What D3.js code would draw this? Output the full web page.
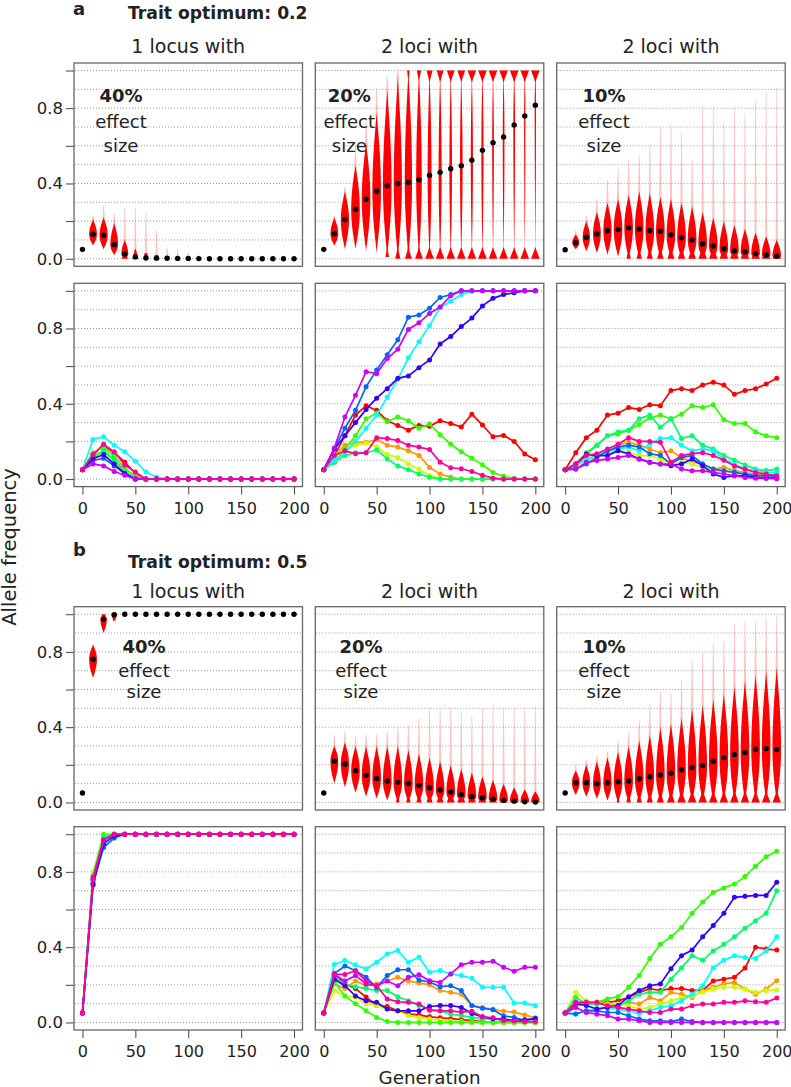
<!DOCTYPE html>
<html><head><meta charset="utf-8">
<script src="https://cdn.jsdelivr.net/npm/d3@7"></script>
<style>
body{margin:0;background:#fff}
svg{display:block}
text{font-family:"DejaVu Sans",sans-serif;fill:#222}
</style>
</head><body>
<svg id="c" width="791" height="1087"></svg>
<script>
// ---------------- DATA ----------------
const generations = [0,10,20,30,40,50,60,70,80,90,100,110,120,130,140,150,160,170,180,190,200];
const gridValues = [0,0.1,0.2,0.3,0.4,0.5,0.6,0.7,0.8,0.9,1.0];
const yTickValues = [0,0.2,0.4,0.6,0.8,1.0];
const yTickLabels = ["0.0","","0.4","","0.8",""];
const xTickValues = [0,50,100,150,200];
const lineColors = ["#FF0000","#FF9900","#CCFF00","#33FF00","#00FF66","#00FFFF","#0066FF","#3300FF","#CC00FF","#FF0099"];
const columnTitles = ["1 locus with","2 loci with","2 loci with"];
const effectLabels = ["40%","20%","10%"];
const rowTitles = ["Trait optimum: 0.2","Trait optimum: 0.5"];
const rowLetters = ["a","b"];

// Violin summaries: mean, solid lower/upper extent, faint tail top, relative widths (mid, bottom flare, top flare)
const vA1Mean = [0.05,0.13,0.125,0.075,0.025,0.01,0.004,0.003,0.003,0.002,0.002,0.001,0,0,0,0,0,0,0,0,0];
const vA1Lo   = [0.05,0.07,0.05,0.02,0,0,0,0,0,0,0,0,0,0,0,0,0,0,0,0,0];
const vA1Hi   = [0.05,0.21,0.22,0.19,0.10,0.05,0.03,0.02,0.015,0.01,0.01,0.005,0,0,0,0,0,0,0,0,0];
const vA1Tail = [0.05,0.23,0.28,0.24,0.27,0.27,0.25,0.15,0.06,0.05,0.03,0.02,0,0,0,0,0,0,0,0,0];
const vA1DMid = [0,0.9,0.95,0.9,0.8,0.5,0.35,0.3,0.3,0.3,0.25,0.2,0,0,0,0,0,0,0,0,0];
const vA1DLo  = [0,0,0,0,0.7,0.7,0.6,0.6,0.6,0.55,0.5,0.3,0,0,0,0,0,0,0,0,0];
const vA1DHi  = [0,0,0,0,0,0,0,0,0,0,0,0,0,0,0,0,0,0,0,0,0];

const vA2Mean = [0.05,0.133,0.208,0.263,0.316,0.359,0.388,0.40,0.407,0.42,0.444,0.459,0.478,0.494,0.524,0.576,0.617,0.647,0.711,0.759,0.816];
const vA2Lo   = [0.05,0.07,0.05,0.05,0.04,0.03,0.01,0,0,0,0,0,0,0,0,0,0,0,0,0,0];
const vA2Hi   = [0.05,0.22,0.36,0.5,0.62,0.78,0.9,0.97,1,1,1,1,1,1,1,1,1,1,1,1,1];
const vA2Tail = [0.05,0.23,0.38,0.6,0.75,0.9,0.97,1,1,1,1,1,1,1,1,1,1,1,1,1,1];
const vA2DMid = [0,0.9,0.95,1,1,1,1,0.95,0.85,0.65,0.45,0.35,0.3,0.3,0.25,0.25,0.2,0.2,0.2,0.15,0.15];
const vA2DLo  = [0,0,0,0,0,0,0.4,0.6,0.8,0.9,1,1,1,1,1,1,1,1,1,1,1];
const vA2DHi  = [0,0,0,0,0,0,0,0,0.3,0.5,0.7,0.8,0.9,0.9,1,1,1,1,1,1,1];

const vA3Mean = [0.048,0.085,0.114,0.132,0.149,0.155,0.165,0.158,0.149,0.146,0.128,0.112,0.10,0.08,0.068,0.053,0.043,0.037,0.027,0.02,0.014];
const vA3Lo   = [0.048,0.05,0.04,0.03,0.02,0.01,0,0,0,0,0,0,0,0,0,0,0,0,0,0,0];
const vA3Hi   = [0.048,0.13,0.2,0.25,0.3,0.32,0.34,0.36,0.35,0.33,0.32,0.3,0.28,0.25,0.22,0.2,0.18,0.16,0.14,0.12,0.1];
const vA3Tail = [0.048,0.15,0.23,0.32,0.42,0.48,0.53,0.55,0.6,0.7,0.72,0.67,0.53,0.81,0.81,0.73,0.8,0.77,0.84,0.88,0.91];
const vA3DMid = [0,0.8,0.85,0.9,0.95,1,1,1,1,1,1,1,1,1,1,1,1,1,1,1,1];
const vA3DLo  = [0,0,0,0,0,0,0.5,0.6,0.7,0.75,0.8,0.85,0.9,1,1,1,1,1,1,1,1];
const vA3DHi  = [0,0,0,0,0,0,0,0,0,0,0,0,0,0,0,0,0,0,0,0,0];

const vB1Mean = [0.05,0.761,0.974,0.997,1,1,1,1,1,1,1,1,1,1,1,1,1,1,1,1,1];
const vB1Lo   = [0.05,0.66,0.9,0.965,0.99,1,1,1,1,1,1,1,1,1,1,1,1,1,1,1,1];
const vB1Hi   = [0.05,0.84,1,1,1,1,1,1,1,1,1,1,1,1,1,1,1,1,1,1,1];
const vB1Tail = [0.05,0.84,1,1,1,1,1,1,1,1,1,1,1,1,1,1,1,1,1,1,1];
const vB1DMid = [0,0.9,0.75,0.6,0.3,0,0,0,0,0,0,0,0,0,0,0,0,0,0,0,0];
const vB1DLo  = [0,0,0,0,0,0,0,0,0,0,0,0,0,0,0,0,0,0,0,0,0];
const vB1DHi  = [0,0,0.5,0.6,0.35,0,0,0,0,0,0,0,0,0,0,0,0,0,0,0,0];

const vB2Mean = [0.05,0.219,0.204,0.169,0.144,0.128,0.114,0.107,0.101,0.091,0.078,0.066,0.055,0.043,0.032,0.025,0.018,0.011,0.007,0.004,0.002];
const vB2Lo   = [0.05,0.1,0.08,0.05,0.03,0.02,0.01,0,0,0,0,0,0,0,0,0,0,0,0,0,0];
const vB2Hi   = [0.05,0.3,0.32,0.3,0.3,0.3,0.3,0.3,0.28,0.26,0.24,0.22,0.2,0.18,0.16,0.14,0.12,0.1,0.08,0.07,0.06];
const vB2Tail = [0.05,0.36,0.38,0.35,0.36,0.36,0.38,0.4,0.41,0.45,0.5,0.5,0.5,0.48,0.46,0.5,0.52,0.5,0.5,0.5,0.51];
const vB2DMid = [0,0.9,0.95,1,1,1,1,1,1,1,1,1,1,1,1,1,1,1,1,1,1];
const vB2DLo  = [0,0,0,0,0,0,0,0.4,0.5,0.6,0.7,0.8,0.9,0.9,0.9,0.9,0.9,0.9,0.9,0.9,0.9];
const vB2DHi  = [0,0,0,0,0,0,0,0,0,0,0,0,0,0,0,0,0,0,0,0,0];

const vB3Mean = [0.05,0.105,0.105,0.10,0.105,0.11,0.114,0.126,0.137,0.146,0.155,0.174,0.185,0.196,0.219,0.238,0.254,0.265,0.283,0.286,0.281];
const vB3Lo   = [0.05,0.04,0.03,0.02,0.01,0,0,0,0,0,0,0,0,0,0,0,0,0,0,0,0];
const vB3Hi   = [0.05,0.17,0.2,0.22,0.24,0.27,0.3,0.33,0.36,0.4,0.42,0.45,0.5,0.52,0.55,0.58,0.62,0.65,0.68,0.7,0.72];
const vB3Tail = [0.05,0.2,0.23,0.25,0.27,0.33,0.37,0.44,0.52,0.59,0.58,0.65,0.76,0.8,0.85,0.86,0.95,0.96,0.96,0.98,0.99];
const vB3DMid = [0,0.9,0.9,0.9,0.95,1,1,1,1,1,1,1,1,1,1,1,1,1,1,1,1];
const vB3DLo  = [0,0,0,0,0,0.3,0.5,0.6,0.7,0.8,0.9,1,1,1,1,1,1,1,1,1,1];
const vB3DHi  = [0,0,0,0,0,0,0,0,0,0,0,0,0,0,0,0,0,0,0,0,0];

// Replicate trajectories (10 per panel; colour order as lineColors)
const lA1 = [
 [0.05,0.13,0.18,0.14,0.09,0.03,0,0,0,0,0,0,0,0,0,0,0,0,0,0,0],
 [0.05,0.11,0.15,0.10,0.05,0.02,0,0,0,0,0,0,0,0,0,0,0,0,0,0,0],
 [0.05,0.12,0.14,0.08,0.03,0,0,0,0,0,0,0,0,0,0,0,0,0,0,0,0],
 [0.05,0.14,0.17,0.12,0.06,0.01,0,0,0,0,0,0,0,0,0,0,0,0,0,0,0],
 [0.05,0.12,0.15,0.10,0.04,0,0,0,0,0,0,0,0,0,0,0,0,0,0,0,0],
 [0.05,0.21,0.225,0.18,0.145,0.095,0.037,0.01,0,0,0,0,0,0,0,0,0,0,0,0,0],
 [0.05,0.10,0.11,0.07,0.03,0,0,0,0,0,0,0,0,0,0,0,0,0,0,0,0],
 [0.05,0.11,0.13,0.08,0.03,0,0,0,0,0,0,0,0,0,0,0,0,0,0,0,0],
 [0.05,0.08,0.07,0.04,0.02,0,0,0,0,0,0,0,0,0,0,0,0,0,0,0,0],
 [0.05,0.13,0.185,0.145,0.075,0.037,0,0,0,0,0,0,0,0,0,0,0,0,0,0,0]
];
const lA2 = [
 [0.05,0.125,0.23,0.34,0.39,0.365,0.31,0.285,0.26,0.285,0.28,0.31,0.295,0.277,0.345,0.287,0.225,0.232,0.2,0.133,0.103],
 [0.05,0.125,0.18,0.195,0.195,0.21,0.18,0.17,0.15,0.125,0.062,0.027,0.01,0,0,0,0,0,0,0,0],
 [0.05,0.115,0.16,0.18,0.19,0.17,0.13,0.115,0.08,0.053,0.018,0.004,0,0,0,0,0,0,0,0,0],
 [0.05,0.09,0.16,0.23,0.32,0.35,0.305,0.33,0.31,0.27,0.292,0.236,0.185,0.145,0.11,0.076,0.035,0.015,0.004,0,0],
 [0.05,0.09,0.125,0.14,0.14,0.155,0.107,0.07,0.05,0.027,0.01,0,0,0,0,0,0,0,0,0,0],
 [0.05,0.10,0.14,0.20,0.27,0.34,0.435,0.53,0.645,0.73,0.815,0.912,0.944,0.98,1,1,1,1,1,1,1],
 [0.05,0.16,0.27,0.365,0.49,0.58,0.66,0.74,0.86,0.872,0.908,0.965,0.98,1,1,1,1,1,1,1,1],
 [0.05,0.16,0.23,0.30,0.37,0.43,0.48,0.535,0.548,0.592,0.633,0.718,0.757,0.81,0.855,0.92,0.96,0.98,0.99,1,1],
 [0.05,0.165,0.33,0.445,0.57,0.56,0.64,0.69,0.795,0.83,0.88,0.914,0.974,1,1,1,1,1,1,1,1],
 [0.05,0.125,0.15,0.135,0.14,0.22,0.215,0.205,0.18,0.17,0.157,0.09,0.06,0.055,0.04,0.02,0.005,0,0,0,0]
];
const lA3 = [
 [0.05,0.14,0.22,0.26,0.34,0.35,0.38,0.37,0.395,0.39,0.47,0.48,0.47,0.50,0.515,0.50,0.45,0.47,0.48,0.505,0.535],
 [0.05,0.07,0.107,0.125,0.14,0.18,0.195,0.18,0.16,0.14,0.15,0.115,0.09,0.08,0.053,0.062,0.045,0.035,0.027,0.02,0.027],
 [0.05,0.07,0.107,0.115,0.142,0.151,0.142,0.125,0.125,0.107,0.071,0.089,0.08,0.062,0.044,0.044,0.036,0.027,0.018,0.012,0.009],
 [0.05,0.08,0.14,0.18,0.23,0.24,0.26,0.29,0.325,0.34,0.32,0.345,0.39,0.38,0.395,0.315,0.295,0.295,0.25,0.23,0.22],
 [0.05,0.07,0.13,0.18,0.23,0.25,0.26,0.32,0.34,0.275,0.32,0.215,0.23,0.18,0.16,0.125,0.10,0.075,0.053,0.045,0.053],
 [0.05,0.08,0.10,0.125,0.15,0.16,0.17,0.15,0.185,0.215,0.22,0.18,0.15,0.16,0.15,0.107,0.08,0.053,0.045,0.035,0.035],
 [0.05,0.053,0.08,0.115,0.15,0.17,0.18,0.17,0.135,0.125,0.08,0.115,0.125,0.08,0.053,0.044,0.036,0.027,0.018,0.018,0.014],
 [0.05,0.08,0.133,0.125,0.125,0.151,0.133,0.107,0.089,0.08,0.071,0.08,0.107,0.071,0.027,0.009,0.018,0.018,0.009,0.007,0.005],
 [0.05,0.053,0.089,0.098,0.107,0.115,0.125,0.107,0.089,0.08,0.08,0.053,0.044,0.044,0.036,0.027,0.018,0.009,0.005,0.003,0.002],
 [0.05,0.08,0.125,0.135,0.16,0.185,0.22,0.20,0.20,0.195,0.09,0.125,0.135,0.14,0.125,0.10,0.07,0.053,0.035,0.027,0.018]
];
const lB1 = [
 [0.05,0.76,0.97,1,1,1,1,1,1,1,1,1,1,1,1,1,1,1,1,1,1],
 [0.05,0.78,0.98,1,1,1,1,1,1,1,1,1,1,1,1,1,1,1,1,1,1],
 [0.05,0.80,0.99,1,1,1,1,1,1,1,1,1,1,1,1,1,1,1,1,1,1],
 [0.05,0.78,1,1,1,1,1,1,1,1,1,1,1,1,1,1,1,1,1,1,1],
 [0.05,0.76,0.98,1,1,1,1,1,1,1,1,1,1,1,1,1,1,1,1,1,1],
 [0.05,0.75,0.96,0.99,1,1,1,1,1,1,1,1,1,1,1,1,1,1,1,1,1],
 [0.05,0.74,0.93,0.98,1,1,1,1,1,1,1,1,1,1,1,1,1,1,1,1,1],
 [0.05,0.73,0.95,0.99,1,1,1,1,1,1,1,1,1,1,1,1,1,1,1,1,1],
 [0.05,0.77,0.97,1,1,1,1,1,1,1,1,1,1,1,1,1,1,1,1,1,1],
 [0.05,0.76,0.97,1,1,1,1,1,1,1,1,1,1,1,1,1,1,1,1,1,1]
];
const lB2 = [
 [0.05,0.26,0.205,0.18,0.135,0.09,0.085,0.062,0.045,0.04,0.03,0.025,0.02,0.015,0.01,0.005,0,0,0,0,0],
 [0.05,0.205,0.18,0.22,0.195,0.205,0.22,0.24,0.22,0.21,0.2,0.17,0.16,0.15,0.09,0.08,0.07,0.06,0.055,0.04,0.025],
 [0.05,0.17,0.14,0.135,0.10,0.09,0.071,0.062,0.036,0.027,0.018,0.012,0.008,0.005,0.003,0,0,0,0,0,0],
 [0.05,0.215,0.14,0.10,0.062,0.027,0.005,0,0,0,0,0,0,0,0,0,0,0,0,0,0],
 [0.05,0.24,0.205,0.19,0.18,0.17,0.17,0.137,0.115,0.09,0.071,0.062,0.045,0.036,0.027,0.02,0.018,0.012,0.009,0.005,0.004],
 [0.05,0.308,0.329,0.306,0.284,0.32,0.364,0.382,0.32,0.347,0.267,0.276,0.258,0.249,0.235,0.187,0.187,0.187,0.103,0.103,0.089],
 [0.05,0.26,0.30,0.275,0.24,0.185,0.25,0.28,0.28,0.225,0.215,0.19,0.195,0.17,0.09,0.075,0.068,0.035,0.027,0.01,0.023],
 [0.05,0.23,0.195,0.14,0.115,0.107,0.071,0.062,0.062,0.062,0.085,0.09,0.09,0.08,0.048,0.03,0.02,0.018,0.01,0.014,0.02],
 [0.05,0.255,0.22,0.25,0.205,0.195,0.22,0.195,0.24,0.254,0.222,0.213,0.258,0.306,0.32,0.32,0.325,0.293,0.272,0.293,0.293],
 [0.05,0.255,0.255,0.275,0.22,0.195,0.125,0.11,0.107,0.098,0.065,0.062,0.062,0.055,0.06,0.03,0.025,0.01,0.008,0.005,0.005]
];
const lB3 = [
 [0.05,0.107,0.098,0.107,0.107,0.115,0.133,0.16,0.18,0.17,0.18,0.18,0.17,0.17,0.22,0.23,0.24,0.29,0.40,0.39,0.385],
 [0.05,0.089,0.098,0.098,0.098,0.089,0.107,0.098,0.133,0.115,0.16,0.15,0.133,0.17,0.187,0.205,0.213,0.178,0.15,0.178,0.222],
 [0.05,0.16,0.115,0.107,0.098,0.098,0.089,0.071,0.08,0.098,0.115,0.133,0.142,0.16,0.178,0.187,0.187,0.178,0.16,0.169,0.174],
 [0.05,0.1,0.107,0.107,0.125,0.137,0.187,0.25,0.34,0.415,0.455,0.505,0.58,0.64,0.69,0.715,0.735,0.775,0.83,0.88,0.91],
 [0.05,0.133,0.098,0.098,0.089,0.089,0.115,0.15,0.16,0.16,0.23,0.29,0.355,0.33,0.38,0.415,0.455,0.5,0.54,0.58,0.70],
 [0.05,0.045,0.062,0.071,0.08,0.071,0.062,0.048,0.062,0.08,0.089,0.115,0.15,0.195,0.29,0.33,0.355,0.345,0.34,0.38,0.455],
 [0.05,0.045,0.062,0.062,0.053,0.053,0.036,0.018,0.009,0.009,0.005,0.018,0.005,0,0,0,0,0,0,0,0],
 [0.05,0.1,0.09,0.071,0.08,0.09,0.137,0.17,0.195,0.205,0.285,0.355,0.385,0.455,0.515,0.58,0.665,0.67,0.675,0.675,0.745],
 [0.05,0.08,0.053,0.044,0.036,0.018,0.018,0.009,0,0,0,0,0,0,0,0,0,0,0,0,0],
 [0.05,0.107,0.107,0.107,0.089,0.08,0.071,0.062,0.053,0.053,0.071,0.071,0.089,0.098,0.098,0.107,0.107,0.115,0.11,0.107,0.13]
];

// ---------------- LAYOUT ----------------
const colX = [74, 315.3, 556.7];
const rowY = [63, 283.3, 606.7, 826.7];
const PW = 228.5, PH = 203.3;
const HALF_W = 4.3;    // max violin half-width (px)
const FLARE = 0.06;    // flare height (data units)

const x = d3.scaleLinear().domain([-8, 208]).range([0, PW]);
const y = d3.scaleLinear().domain([-0.04, 1.04]).range([PH, 0]);

const svg = d3.select("#c");

const violinPanels = [
  {row:0, col:0, mean:vA1Mean, lo:vA1Lo, hi:vA1Hi, tail:vA1Tail, dm:vA1DMid, dl:vA1DLo, dh:vA1DHi, lx:47, ly:[39.3,64.7,88.7]},
  {row:0, col:1, mean:vA2Mean, lo:vA2Lo, hi:vA2Hi, tail:vA2Tail, dm:vA2DMid, dl:vA2DLo, dh:vA2DHi, lx:34, ly:[39.3,64.7,88.7]},
  {row:0, col:2, mean:vA3Mean, lo:vA3Lo, hi:vA3Hi, tail:vA3Tail, dm:vA3DMid, dl:vA3DLo, dh:vA3DHi, lx:47.3, ly:[39.3,64.7,88.7]},
  {row:2, col:0, mean:vB1Mean, lo:vB1Lo, hi:vB1Hi, tail:vB1Tail, dm:vB1DMid, dl:vB1DLo, dh:vB1DHi, lx:70, ly:[46.6,70,91.6]},
  {row:2, col:1, mean:vB2Mean, lo:vB2Lo, hi:vB2Hi, tail:vB2Tail, dm:vB2DMid, dl:vB2DLo, dh:vB2DHi, lx:45.7, ly:[46.6,70,91.6]},
  {row:2, col:2, mean:vB3Mean, lo:vB3Lo, hi:vB3Hi, tail:vB3Tail, dm:vB3DMid, dl:vB3DLo, dh:vB3DHi, lx:47.3, ly:[46.6,70,91.6]}
];
const linePanels = [
  {row:1, col:0, lines:lA1}, {row:1, col:1, lines:lA2}, {row:1, col:2, lines:lA3},
  {row:3, col:0, lines:lB1}, {row:3, col:1, lines:lB2}, {row:3, col:2, lines:lB3}
];

function panelGroup(row, col) {
  const g = svg.append("g").attr("transform", `translate(${colX[col]},${rowY[row]})`);
  g.selectAll("line.grid").data(gridValues).join("line")
    .attr("class","grid")
    .attr("x1", 1).attr("x2", PW - 1)
    .attr("y1", d => y(d)).attr("y2", d => y(d))
    .attr("stroke", "#9a9a9a").attr("stroke-width", 1)
    .attr("stroke-dasharray", "1,2");
  if (col === 0) {
    const ax = g.append("g").call(d3.axisLeft(y).tickValues(yTickValues).tickSize(8).tickPadding(3)
      .tickFormat((d, i) => yTickLabels[i]));
    ax.select(".domain").remove();
    ax.selectAll("line").attr("stroke", "#444");
    ax.selectAll("text").attr("font-size", 16.5).attr("font-family", "DejaVu Sans").attr("fill", "#222");
  }
  return g;
}
function finishPanel(g) {
  g.append("rect").attr("x", 0).attr("y", 0).attr("width", PW).attr("height", PH)
    .attr("fill", "none").attr("stroke", "#666").attr("stroke-width", 1.3);
}

function violinPoints(m, lo, hi, dm, dl, dh) {
  const n = 48, pts = [];
  for (let k = 0; k <= n; k++) {
    const v = lo + (hi - lo) * k / n;
    let u;
    if (v < m) u = (m - lo) > 0 ? (m - v) / (m - lo) : 1;
    else u = (hi - m) > 0 ? (v - m) / (hi - m) : 0;
    const ker = u >= 1 ? 0 : Math.pow(1 - u * u, 1.2);
    const fl = Math.max(0, 1 - (v - lo) / FLARE);
    const fh = Math.max(0, 1 - (hi - v) / FLARE);
    pts.push({v, w: HALF_W * Math.max(dm * ker, dl * fl, dh * fh)});
  }
  return pts;
}

violinPanels.forEach(p => {
  const g = panelGroup(p.row, p.col);
  const vg = g.append("g");
  generations.forEach((t, i) => {
    const cx = x(t);
    const area = d3.area().y(d => y(d.v)).x0(d => cx - d.w).x1(d => cx + d.w).curve(d3.curveLinear);
    if (p.tail[i] > p.hi[i] + 0.001) {
      const tp = [{v: p.mean[i], w: 1.3}, {v: p.hi[i], w: 1.1}, {v: p.tail[i], w: 0.35}];
      vg.append("path").attr("d", area(tp)).attr("fill", "#ff0000").attr("fill-opacity", 0.24);
    }
    if (p.hi[i] - p.lo[i] > 0.001 && (p.dm[i] > 0 || p.dl[i] > 0 || p.dh[i] > 0)) {
      const pts = violinPoints(p.mean[i], p.lo[i], p.hi[i], p.dm[i], p.dl[i], p.dh[i]);
      vg.append("path").attr("d", area(pts)).attr("fill", "#ff0000");
    }
  });
  g.selectAll("circle.mean").data(generations).join("circle")
    .attr("class","mean")
    .attr("cx", d => x(d)).attr("cy", (d, i) => y(p.mean[i])).attr("r", 2.7).attr("fill", "#000");
  const lab = g.append("g").attr("text-anchor", "middle");
  lab.append("text").attr("x", p.lx).attr("y", p.ly[0]).attr("font-size", 18).attr("font-weight", "bold").text(effectLabels[p.col]);
  lab.append("text").attr("x", p.lx).attr("y", p.ly[1]).attr("font-size", 18).text("effect");
  lab.append("text").attr("x", p.lx).attr("y", p.ly[2]).attr("font-size", 18).text("size");
  finishPanel(g);
});

linePanels.forEach(p => {
  const g = panelGroup(p.row, p.col);
  const line = d3.line().x((d, i) => x(generations[i])).y(d => y(d));
  p.lines.forEach((s, k) => {
    const sg = g.append("g");
    sg.append("path").attr("d", line(s)).attr("fill", "none")
      .attr("stroke", lineColors[k]).attr("stroke-width", 1.7);
    sg.selectAll("circle").data(s).join("circle")
      .attr("cx", (d, i) => x(generations[i])).attr("cy", d => y(d))
      .attr("r", 2.5).attr("fill", lineColors[k]);
  });
  finishPanel(g);
  const ax = g.append("g").attr("transform", `translate(0,${PH})`)
    .call(d3.axisBottom(x).tickValues(xTickValues).tickSize(8).tickPadding(8).tickFormat(d3.format("d")));
  ax.select(".domain").remove();
  ax.selectAll("line").attr("stroke", "#444");
  ax.selectAll("text").attr("font-size", 16).attr("font-family", "DejaVu Sans").attr("fill", "#222");
});

// Column titles & row headings
[0, 2].forEach((r, ri) => {
  const titleY = ri === 0 ? 52.5 : 598;
  columnTitles.forEach((t, c) => {
    svg.append("text").attr("x", colX[c] + PW / 2).attr("y", titleY)
      .attr("text-anchor", "middle").attr("font-size", 19).text(t);
  });
  svg.append("text").attr("x", 73).attr("y", ri === 0 ? 15 : 556)
    .attr("font-size", 18).attr("font-weight", "bold").text(rowLetters[ri]);
  svg.append("text").attr("x", 128).attr("y", ri === 0 ? 19 : 568)
    .attr("font-size", 17.2).attr("font-weight", "bold").text(rowTitles[ri]);
});

svg.append("text").attr("transform", "translate(16,547) rotate(-90)")
  .attr("text-anchor", "middle").attr("font-size", 19.5).text("Allele frequency");
svg.append("text").attr("x", 429.5).attr("y", 1084)
  .attr("text-anchor", "middle").attr("font-size", 18.3).text("Generation");
</script>
</body></html>
